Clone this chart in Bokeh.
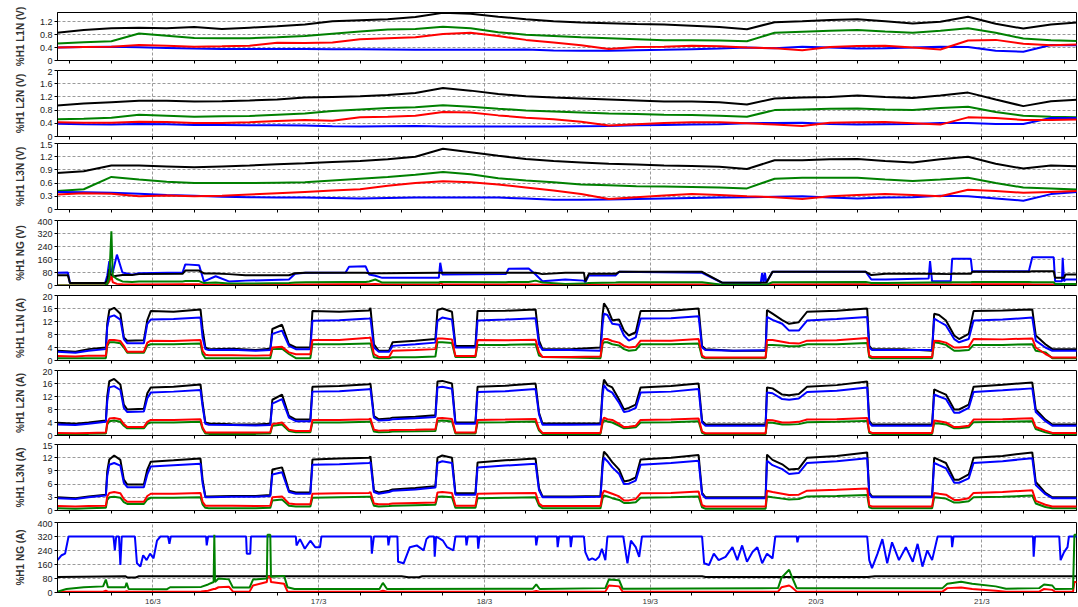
from bokeh.plotting import figure
from bokeh.layouts import column
from bokeh.models import Range1d, FixedTicker, CustomJSTickFormatter
from bokeh.embed import file_html
from bokeh.resources import INLINE

# ---------------- time axis (hours since 15/3 00:00) ----------------
x_start, x_end = 10.2, 157.7
six_hour_ticks = [12, 18, 24, 30, 36, 42, 48, 54, 60, 66, 72, 78, 84, 90, 96, 102,
                  108, 114, 120, 126, 132, 138, 144, 150, 156]
day_ticks = [24, 48, 72, 96, 120, 144]
day_labels = ["16/3", "17/3", "18/3", "19/3", "20/3", "21/3"]

# ---------------- voltage harmonics (4-hourly samples) ----------------
t_volt = [10, 14, 18, 22, 26, 30, 34, 38, 42, 46, 50, 54, 58, 62, 66, 70, 74, 78, 82,
          86, 90, 94, 98, 102, 106, 110, 114, 118, 122, 126, 130, 134, 138, 142, 146,
          150, 154, 158]

v1_black = [0.86, 0.95, 1.0, 1.02, 1.0, 1.04, 0.98, 1.02, 1.06, 1.12, 1.22, 1.25, 1.28,
            1.35, 1.48, 1.45, 1.36, 1.28, 1.22, 1.18, 1.16, 1.13, 1.12, 1.08, 1.04, 0.97,
            1.19, 1.22, 1.26, 1.28, 1.22, 1.15, 1.2, 1.36, 1.14, 0.99, 1.12, 1.18]
v1_green = [0.53, 0.57, 0.6, 0.84, 0.77, 0.7, 0.69, 0.69, 0.72, 0.76, 0.83, 0.9, 0.96,
            0.98, 1.05, 1.0, 0.88, 0.8, 0.76, 0.72, 0.69, 0.66, 0.63, 0.63, 0.62, 0.6,
            0.86, 0.89, 0.92, 0.95, 0.9, 0.86, 0.92, 1.0, 0.86, 0.68, 0.63, 0.6]
v1_red = [0.4, 0.42, 0.43, 0.48, 0.46, 0.43, 0.44, 0.46, 0.55, 0.54, 0.56, 0.66, 0.69,
          0.72, 0.82, 0.86, 0.76, 0.64, 0.56, 0.47, 0.36, 0.42, 0.43, 0.46, 0.44, 0.4,
          0.38, 0.32, 0.42, 0.45, 0.46, 0.4, 0.34, 0.62, 0.64, 0.52, 0.47, 0.5]
v1_blue = [0.4, 0.42, 0.43, 0.41, 0.39, 0.37, 0.36, 0.36, 0.36, 0.36, 0.35, 0.35, 0.34,
           0.33, 0.33, 0.33, 0.33, 0.34, 0.31, 0.3, 0.3, 0.32, 0.33, 0.35, 0.37, 0.4,
           0.38, 0.43, 0.4, 0.37, 0.38, 0.4, 0.43, 0.42, 0.3, 0.27, 0.48, 0.47]

v2_black = [0.94, 1.0, 1.04, 1.08, 1.08, 1.06, 1.07, 1.09, 1.12, 1.18, 1.2, 1.22, 1.26,
            1.32, 1.47, 1.39, 1.29, 1.22, 1.18, 1.15, 1.12, 1.09, 1.06, 1.06, 1.04, 0.97,
            1.15, 1.18, 1.2, 1.24, 1.2, 1.17, 1.24, 1.33, 1.12, 0.92, 1.07, 1.12]
v2_green = [0.52, 0.54, 0.57, 0.66, 0.63, 0.6, 0.61, 0.62, 0.66, 0.7, 0.77, 0.82, 0.86,
            0.89, 0.95, 0.9, 0.84, 0.79, 0.76, 0.73, 0.7, 0.68, 0.66, 0.65, 0.63, 0.6,
            0.8, 0.82, 0.84, 0.85, 0.82, 0.8, 0.86, 0.9, 0.74, 0.63, 0.6, 0.58]
v2_red = [0.43, 0.42, 0.42, 0.45, 0.44, 0.41, 0.41, 0.43, 0.47, 0.5, 0.48, 0.58, 0.6,
          0.63, 0.74, 0.73, 0.64, 0.57, 0.52, 0.45, 0.33, 0.37, 0.41, 0.43, 0.43, 0.4,
          0.36, 0.32, 0.42, 0.43, 0.44, 0.4, 0.36, 0.58, 0.56, 0.5, 0.5, 0.52]
v2_blue = [0.39, 0.37, 0.36, 0.38, 0.37, 0.35, 0.35, 0.34, 0.34, 0.33, 0.31, 0.3, 0.31,
           0.32, 0.3, 0.3, 0.3, 0.3, 0.3, 0.31, 0.32, 0.34, 0.35, 0.36, 0.37, 0.4,
           0.41, 0.42, 0.38, 0.36, 0.37, 0.38, 0.41, 0.41, 0.38, 0.38, 0.56, 0.56]

v3_black = [0.83, 0.87, 1.0, 1.0, 0.98, 0.96, 0.98, 1.0, 1.03, 1.05, 1.08, 1.1, 1.14,
            1.2, 1.38, 1.3, 1.22, 1.15, 1.1, 1.07, 1.04, 1.02, 1.0, 0.99, 0.97, 0.92,
            1.12, 1.12, 1.14, 1.15, 1.1, 1.07, 1.14, 1.2, 1.04, 0.93, 1.0, 0.98]
v3_green = [0.42, 0.46, 0.74, 0.68, 0.63, 0.6, 0.6, 0.6, 0.61, 0.62, 0.66, 0.7, 0.74,
            0.79, 0.85, 0.8, 0.71, 0.66, 0.62, 0.57, 0.55, 0.53, 0.52, 0.51, 0.5, 0.48,
            0.7, 0.72, 0.72, 0.72, 0.68, 0.65, 0.68, 0.72, 0.6, 0.5, 0.48, 0.45]
v3_red = [0.34, 0.37, 0.36, 0.3, 0.32, 0.3, 0.31, 0.34, 0.37, 0.4, 0.43, 0.46, 0.54,
          0.6, 0.64, 0.62, 0.57, 0.5, 0.43, 0.35, 0.24, 0.28, 0.32, 0.35, 0.33, 0.3,
          0.28, 0.24, 0.3, 0.33, 0.35, 0.33, 0.3, 0.45, 0.42, 0.38, 0.4, 0.42]
v3_blue = [0.4, 0.39, 0.38, 0.36, 0.33, 0.31, 0.29, 0.28, 0.27, 0.27, 0.26, 0.25, 0.26,
           0.27, 0.27, 0.27, 0.27, 0.25, 0.22, 0.22, 0.23, 0.24, 0.25, 0.26, 0.27, 0.28,
           0.29, 0.3, 0.27, 0.25, 0.27, 0.28, 0.31, 0.3, 0.25, 0.2, 0.35, 0.4]

# ---------------- NG voltage ----------------
t_ngv = [10.2, 11.7, 12.0, 17.1, 17.4, 17.7, 18.0, 18.2, 18.8, 19.6,
         21.0, 22.0, 28.3, 28.7, 30.7, 31.4, 33.1, 35.0, 37.4, 43.7,
         44.6, 46.1, 51.9, 52.4, 54.8, 55.3, 56.2, 57.2, 65.4, 65.6,
         65.9, 75.1, 75.5, 78.4, 79.4, 80.4, 83.7, 86.4, 86.6, 87.1,
         91.0, 91.5, 103.5, 106.4, 112.0, 112.2, 112.4, 112.6, 112.8, 113.7,
         127.2, 128.0, 130.1, 136.3, 136.5, 136.8, 139.5, 139.7, 142.4, 142.6,
         150.8, 151.3, 154.4, 154.6, 155.6, 155.7, 155.9, 156.1, 158.0]
ngv_blue = [78, 80, 15, 15, 60, 150, 90, 80, 190, 80,
            67, 76, 80, 130, 125, 25, 57, 25, 30, 37,
            72, 78, 80, 115, 118, 68, 60, 47, 47, 140,
            68, 70, 103, 105, 68, 26, 37, 30, 20, 62,
            62, 84, 78, 17, 17, 78, 17, 78, 17, 84,
            84, 37, 37, 43, 150, 26, 26, 164, 164, 88,
            88, 174, 174, 26, 26, 170, 26, 37, 37]
ngv_black = [63, 63, 15, 15, 30, 100, 60, 55, 60, 65,
             65, 70, 72, 92, 92, 74, 74, 70, 63, 63,
             75, 78, 78, 78, 78, 75, 75, 75, 78, 78,
             78, 78, 78, 78, 78, 70, 78, 78, 25, 72,
             72, 84, 84, 17, 17, 17, 17, 17, 17, 84,
             84, 64, 72, 72, 72, 72, 70, 72, 72, 84,
             84, 88, 88, 47, 47, 47, 47, 68, 68]
ngv_green = [0, 0, 0, 2, 10, 50, 334, 60, 40, 25,
             22, 24, 25, 27, 27, 15, 18, 12, 12, 15,
             18, 20, 22, 22, 22, 25, 37, 18, 18, 22,
             22, 20, 22, 22, 30, 18, 10, 12, 12, 15,
             18, 20, 20, 5, 5, 5, 5, 5, 5, 20,
             22, 15, 15, 18, 18, 18, 18, 20, 20, 22,
             22, 20, 20, 10, 10, 10, 10, 10, 10]
ngv_red = [0, 0, 0, 1, 8, 25, 57, 20, 10, 8,
           6, 6, 8, 8, 8, 5, 5, 5, 5, 5,
           6, 6, 8, 8, 8, 8, 10, 6, 6, 15,
           8, 6, 6, 6, 6, 5, 4, 5, 5, 5,
           5, 6, 6, 3, 3, 3, 3, 3, 3, 6,
           8, 5, 5, 6, 6, 6, 6, 6, 6, 7,
           7, 6, 6, 4, 4, 4, 4, 4, 4]

# ---------------- current harmonics (phase currents) ----------------
t_cur = [10.2, 12.8, 14.7, 17.2, 17.4, 17.7, 18.4, 19.3, 19.8, 20.3,
         22.7, 23.2, 23.7, 27.0, 30.9, 31.2, 31.6, 32.1, 35.5, 38.9,
         41.0, 41.3, 42.7, 43.7, 44.7, 46.8, 47.1, 51.0, 55.3, 55.5,
         56.0, 56.7, 58.2, 58.7, 62.0, 64.9, 65.2, 65.9, 67.3, 67.8,
         70.7, 71.0, 75.0, 79.4, 79.9, 80.4, 84.5, 88.8, 89.1, 89.3,
         89.8, 90.5, 91.5, 92.2, 92.9, 93.9, 94.6, 99.0, 103.0, 103.5,
         104.0, 108.0, 112.7, 112.9, 113.7, 115.1, 116.1, 117.5, 118.7, 123.0,
         127.4, 127.7, 128.1, 132.5, 136.8, 137.1, 137.8, 138.8, 140.0, 140.7,
         142.1, 142.8, 147.0, 151.3, 151.8, 153.2, 154.2, 158.0]

a1_black = [3.0, 2.7, 3.5, 4.0, 11.3, 15.5, 16.2, 14.4, 7.1, 6.1,
            6.2, 12.4, 15.2, 15.0, 15.7, 9.7, 4.0, 3.5, 3.6, 3.2,
            3.6, 9.7, 11.0, 5.0, 4.0, 4.0, 15.2, 15.0, 15.4, 16.2,
            5.0, 3.0, 3.0, 5.6, 6.1, 6.6, 15.5, 16.0, 15.0, 4.5,
            4.5, 15.2, 15.3, 15.7, 6.1, 3.5, 3.5, 4.0, 14.0, 17.6,
            16.0, 12.4, 12.6, 9.2, 7.7, 8.7, 15.2, 15.3, 16.0, 4.5,
            3.5, 3.0, 3.0, 15.5, 14.4, 12.4, 11.3, 11.8, 15.0, 15.3,
            16.0, 4.5, 3.5, 3.5, 3.0, 14.4, 14.0, 12.3, 7.7, 6.6,
            8.2, 15.2, 15.4, 15.7, 7.7, 5.0, 3.5, 3.5]
a1_blue = [2.7, 2.4, 3.0, 3.5, 10.3, 13.4, 13.9, 12.6, 6.6, 5.3,
           5.3, 11.3, 12.6, 12.8, 13.2, 7.1, 3.5, 3.2, 3.3, 3.0,
           3.2, 8.2, 9.2, 4.5, 3.5, 3.5, 12.2, 12.4, 12.9, 13.0,
           4.0, 2.7, 2.7, 4.5, 5.0, 5.5, 12.3, 13.2, 12.6, 4.0,
           4.0, 12.3, 12.6, 13.0, 5.0, 3.2, 3.2, 3.0, 11.0, 14.4,
           14.0, 11.3, 11.0, 7.7, 6.1, 7.1, 12.9, 13.0, 13.6, 4.0,
           3.2, 3.0, 3.2, 13.4, 12.5, 11.3, 9.2, 9.2, 12.3, 12.8,
           13.4, 4.0, 3.2, 3.2, 3.2, 12.9, 12.0, 10.8, 6.6, 5.6,
           6.6, 12.3, 12.6, 13.2, 6.1, 4.0, 3.0, 3.0]
a1_red = [1.4, 1.2, 1.5, 1.5, 5.0, 6.3, 6.3, 6.0, 4.5, 2.7,
          2.7, 5.5, 6.1, 6.0, 6.3, 3.0, 1.8, 1.6, 1.6, 1.5,
          1.6, 4.0, 4.2, 2.5, 1.9, 1.9, 6.3, 6.3, 7.0, 7.1,
          2.0, 1.1, 1.1, 3.0, 3.2, 3.5, 6.8, 6.8, 6.5, 1.4,
          1.4, 6.3, 6.2, 6.4, 2.5, 1.1, 1.1, 1.2, 6.0, 6.6,
          6.6, 6.0, 5.5, 4.5, 4.0, 4.2, 6.1, 6.1, 6.6, 1.5,
          0.9, 0.9, 0.9, 6.3, 6.3, 5.8, 5.4, 5.2, 6.1, 6.2,
          6.9, 1.5, 1.1, 1.1, 1.1, 6.1, 6.0, 5.5, 4.0, 4.0,
          4.2, 6.6, 6.5, 6.8, 4.0, 2.0, 0.9, 0.9]
a1_green = [0.7, 0.7, 0.7, 0.7, 4.5, 5.6, 5.6, 5.3, 4.0, 2.4,
            2.4, 4.6, 5.0, 5.0, 5.2, 2.0, 0.7, 0.7, 0.7, 0.7,
            0.7, 3.5, 3.6, 2.0, 0.7, 0.7, 5.0, 5.0, 5.2, 5.2,
            1.0, 0.7, 0.7, 1.0, 1.0, 1.2, 5.6, 5.6, 5.4, 1.1,
            1.1, 4.8, 4.8, 5.0, 1.5, 1.1, 0.9, 0.7, 5.0, 5.6,
            5.6, 5.0, 4.6, 3.5, 3.0, 3.2, 5.0, 5.0, 5.2, 1.0,
            0.7, 0.7, 0.7, 4.8, 4.8, 4.6, 4.4, 4.4, 5.0, 5.0,
            5.4, 1.0, 0.7, 0.7, 0.7, 5.6, 5.4, 4.8, 3.0, 3.0,
            3.2, 4.8, 4.8, 5.0, 3.0, 2.5, 0.7, 0.7]

a2_black = [3.9, 3.6, 4.0, 4.6, 12.1, 16.7, 17.4, 15.7, 9.5, 8.0,
            8.2, 13.0, 14.8, 15.0, 15.7, 10.0, 4.0, 3.7, 3.5, 3.4,
            3.6, 11.0, 12.6, 6.0, 4.9, 4.9, 15.0, 15.2, 15.8, 16.0,
            6.0, 5.0, 5.2, 5.5, 5.8, 6.2, 16.6, 16.8, 16.0, 4.0,
            4.0, 15.0, 15.3, 16.0, 7.0, 3.7, 3.7, 3.8, 14.0, 17.2,
            15.5, 14.8, 11.0, 8.0, 8.5, 9.5, 14.8, 15.2, 16.0, 4.5,
            3.4, 3.4, 3.4, 14.8, 14.5, 12.6, 12.4, 12.8, 15.0, 15.5,
            16.6, 4.5, 3.4, 3.4, 3.4, 14.2, 13.5, 12.6, 8.0, 8.0,
            9.5, 15.0, 15.6, 16.3, 8.0, 4.9, 3.4, 3.4]
a2_blue = [3.4, 3.2, 3.6, 4.2, 10.5, 14.8, 15.2, 14.0, 8.5, 7.2,
           7.4, 11.5, 13.2, 13.5, 14.0, 9.0, 3.6, 3.3, 3.2, 3.1,
           3.2, 9.8, 11.2, 5.5, 4.4, 4.4, 13.5, 13.6, 14.2, 14.4,
           5.5, 4.6, 4.8, 5.0, 5.3, 5.7, 14.8, 15.0, 14.4, 3.6,
           3.6, 13.4, 13.6, 14.3, 6.5, 3.3, 3.3, 3.4, 12.5, 15.5,
           14.0, 13.2, 10.0, 7.2, 7.5, 8.5, 13.2, 13.5, 14.3, 4.0,
           3.0, 3.0, 3.0, 13.2, 13.0, 11.2, 11.0, 11.4, 13.4, 13.8,
           14.8, 4.0, 3.0, 3.0, 3.0, 12.6, 12.0, 11.2, 7.0, 7.0,
           8.5, 13.4, 13.9, 14.5, 7.2, 4.4, 3.0, 3.0]
a2_red = [0.8, 0.7, 0.8, 0.9, 4.0, 5.2, 5.4, 5.0, 3.5, 2.6,
          2.6, 4.2, 4.8, 4.8, 5.0, 2.5, 1.0, 0.9, 0.9, 0.9,
          1.0, 3.5, 4.0, 1.8, 1.4, 1.4, 4.8, 4.8, 5.0, 5.2,
          1.8, 1.5, 1.6, 1.7, 1.8, 1.9, 5.3, 5.4, 5.1, 0.9,
          0.9, 4.8, 4.9, 5.1, 2.0, 0.8, 0.8, 0.8, 4.5, 5.5,
          5.0, 4.8, 3.6, 2.6, 2.7, 3.0, 4.8, 4.9, 5.2, 1.2,
          0.7, 0.7, 0.7, 4.8, 4.7, 4.0, 4.0, 4.2, 4.9, 5.0,
          5.4, 1.2, 0.8, 0.8, 0.8, 4.6, 4.4, 4.0, 2.6, 2.6,
          3.0, 4.9, 5.0, 5.3, 2.6, 1.5, 0.8, 0.8]
a2_green = [0.5, 0.5, 0.5, 0.6, 3.4, 4.4, 4.6, 4.2, 3.0, 2.2,
            2.2, 3.6, 4.0, 4.0, 4.2, 2.0, 0.6, 0.5, 0.5, 0.5,
            0.6, 3.0, 3.4, 1.4, 1.0, 1.0, 4.0, 4.0, 4.2, 4.4,
            1.2, 1.0, 1.1, 1.2, 1.3, 1.4, 4.5, 4.6, 4.3, 0.6,
            0.6, 4.0, 4.1, 4.3, 1.5, 0.5, 0.5, 0.5, 3.8, 4.7,
            4.3, 4.0, 3.0, 2.2, 2.3, 2.5, 4.0, 4.1, 4.4, 0.8,
            0.4, 0.4, 0.4, 4.0, 3.9, 3.4, 3.4, 3.5, 4.1, 4.2,
            4.5, 0.8, 0.5, 0.5, 0.5, 3.8, 3.7, 3.4, 2.2, 2.2,
            2.5, 4.1, 4.2, 4.4, 2.0, 1.0, 0.5, 0.5]

a3_black = [3.0, 2.8, 3.2, 3.6, 8.9, 11.6, 12.5, 11.5, 7.0, 5.9,
            5.9, 9.3, 11.1, 11.4, 11.8, 7.0, 3.2, 3.2, 3.3, 3.3,
            3.5, 9.3, 9.8, 4.5, 4.1, 4.1, 11.6, 11.8, 12.0, 12.3,
            4.5, 4.1, 4.5, 4.8, 5.1, 5.5, 12.0, 12.5, 12.0, 3.9,
            3.9, 10.9, 11.4, 11.8, 5.0, 3.2, 3.2, 3.3, 11.0, 13.4,
            12.5, 11.0, 9.3, 6.6, 6.8, 7.5, 11.6, 12.0, 12.6, 4.0,
            3.0, 3.0, 3.0, 12.7, 11.5, 10.5, 9.3, 9.5, 12.0, 12.4,
            13.2, 4.0, 3.2, 3.2, 3.2, 12.0, 11.5, 10.8, 7.0, 7.0,
            8.2, 12.0, 12.4, 13.2, 6.5, 4.0, 3.0, 3.0]
a3_blue = [2.8, 2.6, 3.0, 3.4, 7.8, 10.4, 10.8, 10.2, 6.3, 5.3,
           5.3, 8.2, 10.0, 10.3, 10.6, 6.2, 3.0, 3.0, 3.1, 3.1,
           3.3, 8.2, 8.7, 4.2, 3.8, 3.8, 10.4, 10.5, 10.8, 11.0,
           4.2, 3.8, 4.2, 4.5, 4.8, 5.2, 10.8, 11.2, 10.8, 3.6,
           3.6, 9.8, 10.2, 10.6, 4.6, 3.0, 3.0, 3.1, 9.8, 12.0,
           11.2, 9.8, 8.3, 6.0, 6.1, 6.8, 10.4, 10.8, 11.3, 3.7,
           2.8, 2.8, 2.8, 11.3, 10.3, 9.4, 8.3, 8.5, 10.8, 11.2,
           11.9, 3.7, 3.0, 3.0, 3.0, 10.8, 10.3, 9.6, 6.3, 6.3,
           7.3, 10.8, 11.2, 11.9, 5.8, 3.7, 2.8, 2.8]
a3_red = [1.0, 0.9, 1.0, 1.1, 3.2, 4.0, 4.2, 3.9, 2.6, 2.0,
          2.0, 3.3, 3.8, 3.8, 4.0, 2.0, 1.1, 1.1, 1.1, 1.0,
          1.1, 3.0, 3.2, 1.6, 1.4, 1.4, 3.8, 3.9, 4.0, 4.2,
          1.6, 1.4, 1.5, 1.6, 1.7, 1.8, 4.1, 4.2, 4.0, 1.1,
          1.1, 3.8, 3.9, 4.0, 1.6, 1.0, 1.0, 1.0, 3.8, 4.5,
          4.2, 3.8, 3.2, 2.3, 2.3, 2.6, 3.9, 4.0, 4.3, 1.2,
          0.9, 0.9, 0.9, 4.5, 4.2, 3.8, 3.5, 3.6, 4.5, 4.7,
          5.0, 1.2, 0.9, 0.9, 0.9, 4.0, 3.8, 3.6, 2.4, 2.4,
          2.8, 4.0, 4.2, 4.6, 2.2, 1.3, 0.9, 0.9]
a3_green = [0.5, 0.4, 0.5, 0.6, 2.4, 3.0, 3.1, 2.9, 1.9, 1.5,
            1.5, 2.5, 2.9, 2.9, 3.0, 1.4, 0.6, 0.5, 0.5, 0.5,
            0.6, 2.3, 2.5, 1.1, 0.9, 0.9, 2.9, 3.0, 3.1, 3.2,
            1.1, 0.9, 1.0, 1.1, 1.2, 1.3, 3.1, 3.2, 3.0, 0.6,
            0.6, 2.8, 2.9, 3.0, 1.1, 0.5, 0.5, 0.5, 2.8, 3.4,
            3.2, 2.8, 2.4, 1.7, 1.7, 1.9, 2.9, 3.0, 3.2, 0.7,
            0.4, 0.4, 0.4, 3.2, 3.0, 2.7, 2.5, 2.6, 3.2, 3.3,
            3.5, 0.7, 0.5, 0.5, 0.5, 3.0, 2.9, 2.7, 1.8, 1.8,
            2.1, 3.0, 3.1, 3.4, 1.6, 0.8, 0.5, 0.5]

# ---------------- NG current ----------------
t_nga_blue = [10.2, 10.8, 11.3, 11.8, 18.3, 18.5, 18.7, 19.1, 19.3, 19.5,
              21.4, 21.7, 22.2, 22.6, 23.1, 23.6, 24.1, 24.6, 25.1, 26.2,
              26.4, 26.6, 31.7, 31.8, 32.0, 37.5, 37.6, 38.1, 38.2, 44.7,
              44.8, 45.3, 46.0, 46.8, 47.5, 48.2, 48.4, 55.6, 55.7, 56.0,
              58.0, 58.1, 58.3, 59.4, 59.5, 60.3, 61.2, 62.2, 63.2, 63.6,
              64.0, 64.7, 64.8, 65.0, 66.0, 66.6, 67.5, 67.8, 69.3, 69.4,
              69.6, 71.0, 71.1, 71.3, 79.4, 79.5, 79.7, 82.5, 82.6, 82.8,
              84.4, 84.5, 84.7, 86.4, 86.6, 87.1, 87.6, 88.1, 88.6, 89.0,
              89.5, 89.8, 92.1, 92.4, 92.7, 93.2, 93.9, 94.4, 94.8, 103.5,
              103.8, 104.5, 105.2, 105.9, 106.9, 107.9, 108.6, 109.3, 110.0, 110.8,
              111.5, 112.2, 112.9, 113.7, 114.1, 117.2, 117.3, 117.5, 127.4, 127.7,
              128.1, 128.9, 129.6, 130.3, 131.0, 132.0, 133.0, 134.0, 134.7, 135.4,
              136.1, 136.8, 137.6, 139.6, 139.7, 139.9, 151.4, 151.5, 151.7, 155.2,
              155.4, 155.9, 156.4, 156.6, 158.0]
nga_blue = [185, 213, 222, 320, 320, 241, 320, 320, 157, 320,
            320, 167, 148, 213, 185, 222, 195, 296, 320, 320,
            278, 320, 320, 269, 320, 320, 222, 222, 320, 320,
            269, 305, 250, 296, 259, 259, 320, 320, 222, 320,
            320, 269, 320, 320, 176, 167, 259, 269, 241, 305,
            320, 320, 204, 320, 296, 259, 241, 320, 320, 269,
            320, 320, 250, 320, 320, 269, 320, 320, 259, 320,
            320, 259, 320, 320, 231, 185, 195, 185, 204, 250,
            185, 320, 320, 241, 167, 296, 259, 204, 320, 320,
            167, 157, 222, 185, 204, 259, 185, 269, 176, 231,
            259, 167, 222, 195, 320, 320, 287, 320, 320, 185,
            139, 222, 305, 167, 287, 185, 259, 176, 278, 148,
            241, 185, 320, 320, 259, 320, 320, 204, 320, 320,
            185, 231, 259, 320, 320]
t_nga_black = [10.2, 20.0, 20.3, 21.5, 22.0, 60.0, 61.0, 62.5, 63.0, 103.5, 104.0,
               127.5, 128.5, 158.0]
nga_black = [88, 93, 86, 86, 93, 93, 87, 87, 93, 93, 89, 89, 93, 93]
t_nga_gr = [10.2, 11.5, 14.0, 16.8, 17.2, 17.5, 20.0, 20.2, 20.5, 26.0,
            26.5, 31.0, 32.0, 32.8, 32.9, 33.0, 33.5, 35.0, 35.6, 38.0,
            38.5, 40.5, 40.6, 41.0, 41.1, 43.0, 43.5, 44.5, 56.8, 57.3,
            57.9, 79.0, 79.5, 80.0, 89.5, 90.0, 91.5, 92.0, 114.5, 115.0,
            116.1, 116.5, 117.2, 138.3, 139.0, 141.0, 142.6, 146.0, 147.5, 152.3,
            153.0, 154.2, 154.6, 157.2, 157.4, 158.0]
nga_green = [5, 20, 30, 35, 74, 30, 30, 55, 20, 18,
             30, 32, 46, 60, 330, 60, 80, 75, 28, 28,
             74, 80, 330, 330, 90, 95, 30, 20, 20, 55,
             20, 22, 46, 20, 25, 74, 70, 22, 25, 85,
             130, 90, 25, 25, 50, 61, 50, 35, 22, 25,
             46, 40, 20, 22, 330, 330]
nga_red = [2, 4, 5, 5, 10, 5, 5, 8, 4, 4,
           5, 6, 10, 20, 20, 20, 30, 33, 5, 5,
           40, 60, 90, 90, 60, 50, 5, 4, 4, 10,
           4, 4, 8, 4, 5, 40, 35, 4, 5, 30,
           40, 30, 5, 5, 25, 28, 20, 10, 5, 5,
           20, 15, 4, 5, 60, 60]

BLACK, BLUE, RED, GREEN = "#000000", "#0000ff", "#ff0000", "#008000"

panels = [
    dict(label="%H1 L1N (V)", ymax=1.49, yticks=[0, 0.4, 0.8, 1.2], bt=12, fh=48, bb=8, so=11,
         series=[(t_volt, v1_black, BLACK), (t_volt, v1_green, GREEN), (t_volt, v1_blue, BLUE), (t_volt, v1_red, RED)]),
    dict(label="%H1 L2N (V)", ymax=2.0, yticks=[0, 0.4, 0.8, 1.2, 1.6, 2], bt=2, fh=66, bb=5, so=11,
         series=[(t_volt, v2_black, BLACK), (t_volt, v2_green, GREEN), (t_volt, v2_blue, BLUE), (t_volt, v2_red, RED)]),
    dict(label="%H1 L3N (V)", ymax=1.5, yticks=[0, 0.3, 0.6, 0.9, 1.2, 1.5], bt=2, fh=66, bb=9, so=11,
         series=[(t_volt, v3_black, BLACK), (t_volt, v3_green, GREEN), (t_volt, v3_blue, BLUE), (t_volt, v3_red, RED)]),
    dict(label="%H1 NG (V)", ymax=400, yticks=[0, 80, 160, 240, 320, 400], bt=2, fh=65, bb=8, so=8,
         series=[(t_ngv, ngv_blue, BLUE), (t_ngv, ngv_black, BLACK), (t_ngv, ngv_red, RED), (t_ngv, ngv_green, GREEN)]),
    dict(label="%H1 L1N (A)", ymax=20, yticks=[0, 4, 8, 12, 16, 20], bt=2, fh=65, bb=8, so=13,
         series=[(t_cur, a1_black, BLACK), (t_cur, a1_blue, BLUE), (t_cur, a1_green, GREEN), (t_cur, a1_red, RED)]),
    dict(label="%H1 L2N (A)", ymax=20, yticks=[0, 4, 8, 12, 16, 20], bt=2, fh=65, bb=7, so=13,
         series=[(t_cur, a2_black, BLACK), (t_cur, a2_blue, BLUE), (t_cur, a2_green, GREEN), (t_cur, a2_red, RED)]),
    dict(label="%H1 L3N (A)", ymax=15, yticks=[0, 3, 6, 9, 12, 15], bt=2, fh=66, bb=10, so=13,
         series=[(t_cur, a3_black, BLACK), (t_cur, a3_blue, BLUE), (t_cur, a3_green, GREEN), (t_cur, a3_red, RED)]),
    dict(label="%H1 NG (A)", ymax=400, yticks=[0, 80, 160, 240, 320, 400], bt=2, fh=70, bb=14, so=8,
         series=[(t_nga_blue, nga_blue, BLUE), (t_nga_black, nga_black, BLACK), (t_nga_gr, nga_red, RED), (t_nga_gr, nga_green, GREEN)]),
]

x_range = Range1d(x_start, x_end)
FONT = "Liberation Sans"
date_overrides = {}
for tk in six_hour_ticks:
    date_overrides[tk] = ""
for tk, lab in zip(day_ticks, day_labels):
    date_overrides[tk] = lab

figs = []
for i, pc in enumerate(panels):
    last = (i == len(panels) - 1)
    p = figure(frame_width=1019, frame_height=pc["fh"], x_range=x_range,
               y_range=Range1d(0, pc["ymax"]), output_backend="svg", toolbar_location=None,
               title=None, min_border_left=57, min_border_right=2,
               min_border_top=pc["bt"], min_border_bottom=pc["bb"])
    p.background_fill_color = "white"
    p.border_fill_color = "white"
    p.outline_line_color = "black"
    p.outline_line_width = 1

    ya = p.yaxis[0]
    ya.ticker = FixedTicker(ticks=pc["yticks"])
    ya.formatter = CustomJSTickFormatter(code="return String(tick);")
    ya.axis_label = pc["label"]
    ya.axis_label_text_font = FONT
    ya.axis_label_text_font_size = "10px"
    ya.axis_label_text_font_style = "bold"
    ya.axis_label_text_color = "#333333"
    ya.axis_label_standoff = pc["so"]
    ya.major_label_text_font = FONT
    ya.major_label_text_font_size = "9px"
    ya.major_label_text_color = "#222222"
    ya.major_label_standoff = 2
    ya.major_tick_out = 3
    ya.major_tick_in = 0
    ya.minor_tick_line_color = None
    ya.axis_line_color = "black"

    xa = p.xaxis[0]
    xa.ticker = FixedTicker(ticks=six_hour_ticks)
    xa.major_tick_out = 3
    xa.major_tick_in = 0
    xa.minor_tick_line_color = None
    xa.axis_line_color = "black"
    xa.major_label_text_font = FONT
    xa.major_label_overrides = date_overrides
    if last:
        xa.major_label_text_font_size = "8px"
        xa.major_label_standoff = 1
        xa.major_label_text_color = "#333333"
    else:
        # ticks only: the date labels are shown once, under the bottom panel
        xa.major_label_text_font_size = "1px"
        xa.major_label_standoff = 0
        xa.major_label_text_color = None

    p.ygrid[0].ticker = FixedTicker(ticks=pc["yticks"])
    p.xgrid[0].ticker = FixedTicker(ticks=day_ticks)
    for g in (p.xgrid[0], p.ygrid[0]):
        g.grid_line_color = "#9a9a9a"
        g.grid_line_dash = "3 2"
        g.grid_line_width = 1

    for tt, vv, col in pc["series"]:
        p.line(tt, vv, line_color=col, line_width=2)

    figs.append(p)

layout = column(*figs, spacing=0)
open("out.html", "w").write(file_html(layout, INLINE))
